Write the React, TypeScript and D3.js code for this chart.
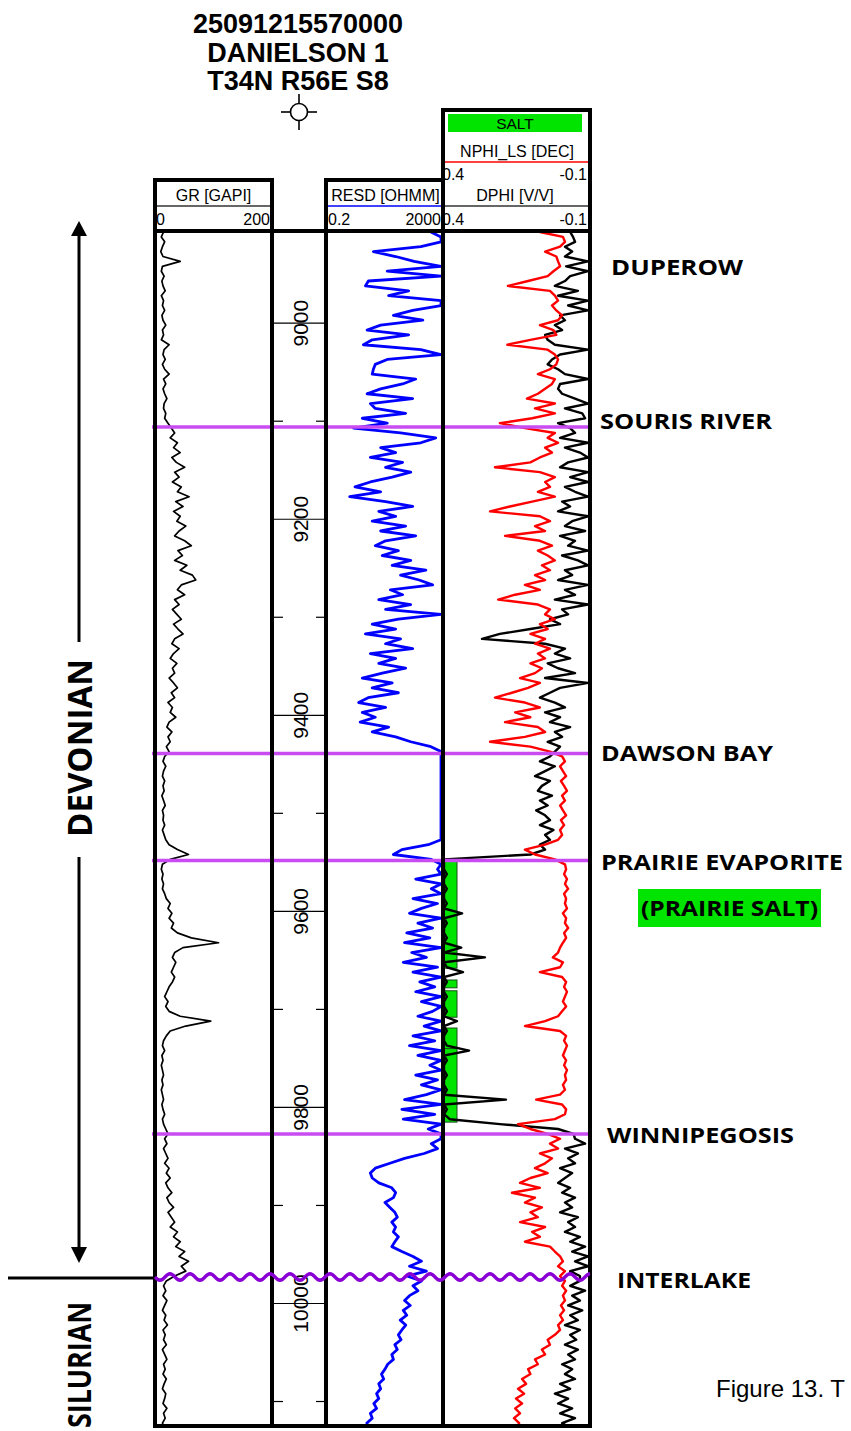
import React from 'react';
import * as d3 from 'd3';

// ---------------- DATA ----------------
const DEPTH_START = 8907; // ft, first sample
const DEPTH_STEP = 5; // ft
const DEPTH_TOP = 8907;
const DEPTH_BOTTOM = 10126;

const WELL_TITLE = ['25091215570000', 'DANIELSON 1', 'T34N R56E S8'];

const GR = [
  10, 6, 12, 8, 5, 9, 40, 8, 6, 11, 7, 9, 13, 6, 10, 8, 12, 7, 9, 14, 8, 10, 6, 20, 11, 9, 13, 8, 12, 20, 10, 14, 9, 12, 16, 11, 10, 14, 12, 18, 24,
  30, 22, 35, 28, 40, 25, 33, 48, 30, 38, 26, 42, 35, 56, 32, 45, 28, 40, 34, 50, 38, 30, 48, 60, 36, 44, 30, 52, 40, 62, 68, 42, 35, 48, 30, 38, 26, 34, 42, 28, 36, 45, 30, 25, 38, 28, 22, 34, 26, 30, 20, 28, 35, 24, 30, 18, 26, 22, 32, 20, 16, 25, 18, 22, 15, 20,
  12, 9, 14, 10, 8, 12, 9, 11, 7, 10, 13, 8, 10, 9, 12, 8, 11, 14, 20, 35, 55, 22,
  8, 6, 9, 7, 10, 8, 12, 15, 22, 18, 25, 20, 28, 24, 35, 60, 109, 45, 30, 26, 32, 28, 24, 30, 26, 20, 16, 12, 18, 14, 20, 40, 95, 50, 22, 15, 10, 8, 12, 7, 9, 6, 8, 10, 7, 9, 6, 8, 10, 7, 9, 12, 8, 10, 14, 18,
  12, 16, 10, 14, 18, 12, 20, 15, 22, 14, 18, 25, 16, 20, 28, 18, 24, 30, 22, 35, 28, 40, 32, 48, 38, 55, 42, 50, 30,
  15, 10, 14, 9, 16, 12, 8, 14, 11, 17, 9, 13, 10, 15, 8, 12, 16, 10, 13, 9, 15, 11, 8, 14, 12, 9, 16, 10, 13, 8, 12,
];

const RESD = [
  870, 2000, 2000, 380, 7.7, 48, 220, 2000, 24, 2000, 5.1, 4, 140, 27, 2000, 2000, 195, 40, 448, 14, 4.6, 140, 7, 3.4, 380, 2000, 24, 9, 7.7, 7, 250, 85, 14, 4.6, 195, 6, 9, 109, 3.1, 24, 1.5,
  72, 1300, 380, 14, 48, 6, 85, 21, 166, 36, 6, 1.7, 14, 1.1, 21, 195, 12, 48, 7, 109, 14, 250, 21, 9, 60, 16, 166, 36, 574, 72, 330, 1000, 31, 85, 12, 166, 21, 2000, 60, 7, 48, 4, 72, 21, 195, 6, 48, 12, 109, 16, 3.1, 36, 7, 60, 5, 2.3, 21, 3.1, 9, 2.6, 27, 7, 48, 166, 870, 2000,
  2000, 2000, 2000, 2000, 2000, 2000, 2000, 2000, 2000, 2000, 2000, 2000, 2000, 2000, 2000, 2000, 2000, 2000, 700, 80, 40, 900,
  2000, 1500, 2000, 250, 2000, 900, 2000, 200, 1500, 400, 150, 2000, 300, 1000, 120, 800, 100, 2000, 180, 600, 90, 1500, 200, 2000, 350, 1200, 250, 2000, 400, 2000, 1000, 300, 2000, 500, 2000, 200, 1200, 150, 2000, 300, 2000, 800, 2000, 250, 1500, 400, 2000, 600, 100, 2000, 80, 1200, 90, 2000, 700, 2000,
  2000, 900, 1500, 500, 100, 30, 9, 6, 7, 12, 35, 48, 40, 20, 30, 45, 55, 35, 48, 40, 60, 45, 35, 80, 200, 400, 150, 600, 120,
  400, 200, 300, 150, 100, 160, 90, 120, 70, 110, 80, 60, 75, 45, 55, 35, 40, 25, 20, 15, 18, 12, 14, 10, 12, 8, 10, 6, 7, 4.5, 5,
];

const NPHI = [
  0.067, -0.013, -0.02, -0.003, 0.049, 0.01, 0.004, -0.003, 0.02, 0.04, 0.108, 0.178, 0.032, 0.015, 0.004, 0.025, 0.01, -0.01, 0.004, 0.067, 0.02, 0.01, 0.1, 0.18, 0.04, 0.015, 0.004, 0.01, 0.032, 0.074, 0.015, 0.025, 0.049, 0.074, 0.112, 0.015, 0.084, 0.015, 0.094, 0.206, 0.119,
  0.015, 0.04, 0.004, 0.049, 0.025, 0.067, 0.1, 0.223, 0.067, 0.015, 0.049, 0.032, 0.074, 0.015, 0.094, 0.171, 0.24, 0.067, 0.032, 0.084, 0.049, 0.188, 0.067, 0.025, 0.074, 0.04, 0.015, 0.06, 0.032, 0.084, 0.049, 0.119, 0.067, 0.153, 0.212, 0.074, 0.032, 0.049, 0.015, 0.067, 0.04, 0.1, 0.049, 0.084, 0.032, 0.074, 0.049, 0.1, 0.06, 0.084, 0.136, 0.067, 0.108, 0.164, 0.223, 0.119, 0.067, 0.153, 0.1, 0.188, 0.074, 0.049, 0.119, 0.24, 0.1, 0.032,
  -0.01, -0.02, -0.003, -0.013, -0.024, -0.006, -0.017, -0.027, -0.01, -0.02, -0.003, -0.013, -0.024, -0.006, -0.017, -0.003, -0.01, 0.004, 0.049, 0.119, 0.084, 0.015,
  -0.02, -0.024, -0.017, -0.027, -0.02, -0.031, -0.017, -0.024, -0.02, -0.027, -0.013, -0.024, -0.02, -0.031, -0.017, -0.024, -0.013, -0.003, 0.004, 0.022, -0.013, -0.003, 0.067, -0.01, -0.024, -0.017, -0.027, -0.02, -0.013, -0.024, -0.01, 0.004, 0.049, 0.119, -0.003, -0.024, -0.017, -0.027, -0.02, -0.013, -0.024, -0.017, -0.027, -0.02, -0.024, -0.013, -0.02, -0.003, 0.08, -0.01, -0.024, -0.02, 0.015, 0.143, 0.1, 0.04,
  -0.003, 0.032, 0.004, 0.067, 0.025, 0.049, 0.084, 0.04, 0.1, 0.136, 0.067, 0.164, 0.084, 0.119, 0.06, 0.1, 0.074, 0.136, 0.049, 0.094, 0.067, 0.119, 0.032, 0.015, -0.003, -0.013, 0.004, -0.02, -0.003,
  -0.02, -0.01, -0.024, -0.013, -0.02, -0.006, -0.017, -0.003, -0.013, 0.004, -0.003, 0.015, 0.04, 0.032, 0.06, 0.049, 0.084, 0.074, 0.108, 0.1, 0.129, 0.115, 0.143, 0.122, 0.15, 0.129, 0.153, 0.136, 0.157, 0.139, 0.15,
];

const DPHI = [
  -0.038, -0.048, -0.055, -0.02, -0.045, -0.02, -0.1, -0.024, -0.1, -0.038, -0.02, 0.015, -0.065, 0.004, -0.1, -0.031, -0.1, -0.003, -0.02, 0.015, -0.01, 0.049, 0.04, 0.015, -0.1, -0.003, 0.025, 0.04, 0.004, -0.02, -0.1, -0.003, 0.004, -0.01, -0.055, -0.1, -0.02, -0.08, -0.09, 0.004, -0.038,
  -0.055, -0.003, -0.1, -0.02, -0.072, -0.1, -0.031, -0.003, -0.1, -0.038, -0.1, -0.02, -0.055, -0.1, -0.01, -0.038, 0.004, -0.1, -0.045, -0.02, -0.09, -0.003, -0.055, -0.031, -0.1, -0.01, -0.065, -0.1, -0.02, -0.045, 0.004, -0.1, -0.02, -0.055, 0.015, -0.1, -0.01, -0.031, 0.032, -0.003, 0.1, 0.206, 0.268, 0.049, -0.02, 0.015, -0.038, 0.04, 0.004, -0.055, 0.049, -0.1, -0.003, 0.032, 0.067, 0.015, -0.02, 0.049, -0.003, 0.032, -0.038, 0.015, -0.01, 0.04, -0.003, 0.015,
  0.032, 0.067, 0.015, 0.049, 0.084, 0.032, 0.06, 0.074, 0.025, 0.067, 0.04, 0.08, 0.049, 0.032, 0.067, 0.02, 0.049, 0.032, 0.067, 0.049, 0.1, 0.4,
  0.4, 0.4, 0.39, 0.4, 0.4, 0.39, 0.4, 0.4, 0.39, 0.4, 0.337, 0.4, 0.39, 0.4, 0.4, 0.39, 0.4, 0.34, 0.4, 0.258, 0.4, 0.39, 0.334, 0.4, 0.39, 0.4, 0.4, 0.39, 0.4, 0.4, 0.39, 0.4, 0.355, 0.4, 0.39, 0.4, 0.4, 0.39, 0.313, 0.4, 0.39, 0.4, 0.4, 0.39, 0.4, 0.4, 0.39, 0.4, 0.185, 0.4, 0.39, 0.4, 0.38, 0.206, 0.004, -0.05,
  -0.055, -0.09, -0.02, -0.065, -0.031, -0.055, -0.003, -0.045, -0.02, 0.004, -0.038, -0.01, -0.055, -0.02, -0.045, -0.003, -0.065, -0.031, -0.055, -0.02, -0.072, -0.038, -0.09, -0.045, -0.1, -0.055, -0.1, -0.038, -0.072,
  -0.072, -0.038, -0.09, -0.045, -0.072, -0.031, -0.08, -0.038, -0.065, -0.02, -0.072, -0.038, -0.059, -0.02, -0.065, -0.031, -0.055, -0.01, -0.045, -0.02, -0.055, -0.003, -0.038, 0.015, -0.031, 0.004, -0.045, -0.003, -0.055, -0.01, -0.038,
];

const DEPTH_TICKS = [9000, 9100, 9200, 9300, 9400, 9500, 9600, 9700, 9800, 9900, 10000, 10100];
const DEPTH_LABELS = [9000, 9200, 9400, 9600, 9800, 10000];

const TOP_NAMES = ['SOURIS RIVER', 'DAWSON BAY', 'PRAIRIE EVAPORITE', 'WINNIPEGOSIS'];
const TOP_DEPTHS = [9106, 9439, 9548, 9827];
const UNCONFORMITY_DEPTH = 9973;

const LABEL_NAMES = ['DUPEROW', 'SOURIS RIVER', 'DAWSON BAY', 'PRAIRIE EVAPORITE', 'WINNIPEGOSIS', 'INTERLAKE'];
const LABEL_DEPTHS = [8943, 9100, 9438, 9550, 9828, 9976];
const SALT_LABEL = '(PRAIRIE SALT)';
const SALT_LABEL_DEPTH = 9597;

const SALT_TOPS = [9548, 9670, 9681, 9719, 9740];
const SALT_BASES = [9658, 9678, 9708, 9740, 9815];

const PERIODS = ['DEVONIAN', 'SILURIAN'];

// ---------------- LAYOUT ----------------
const W = 851;
const H = 1431;
const TRACK_TOP = 231;
const TRACK_BOT = 1426;
const GR_L = 155, GR_R = 272;
const RES_L = 326, RES_R = 443;
const POR_L = 443, POR_R = 590;
const HEAD_TOP = 180;
const POR_HEAD_TOP = 110;

const ARIAL = 'Liberation Sans, Arial, Helvetica, sans-serif';
const LABEL_FONT = '"Open Sans", "Liberation Sans", sans-serif';
const TOP_COLOR = '#c94cf2';
const WAVE_COLOR = '#8a00d4';
const SALT_GREEN = '#00e400';

export default function App() {
  const y = d3.scaleLinear().domain([DEPTH_TOP, DEPTH_BOTTOM]).range([232, 1427]);
  const grX = d3.scaleLinear().domain([0, 200]).range([158, 269]).clamp(true);
  const resX = d3.scaleLog().domain([0.2, 2000]).range([329, 441]).clamp(true);
  const porX = d3.scaleLinear().domain([0.4, -0.1]).range([444, 588]).clamp(true);

  const depthOf = (i: number) => DEPTH_START + i * DEPTH_STEP;
  const mk = (sx: (v: number) => number, vals: number[]) =>
    d3
      .line<number>()
      .x((v) => sx(v))
      .y((_, i) => y(depthOf(i)))(vals) || '';

  const grPath = mk(grX, GR);
  const resPath = mk(resX, RESD);
  const nphiPath = mk(porX, NPHI);
  const dphiPath = mk(porX, DPHI);

  const yU = y(UNCONFORMITY_DEPTH);
  const wavePts: [number, number][] = d3
    .range(GR_L, POR_R + 1, 1)
    .map((x) => [x, yU + 3.2 * Math.sin(((x - GR_L) / 20) * 2 * Math.PI)]);
  const wavePath = d3.line()(wavePts) || '';

  const labelX = [611, 600, 601, 601, 607, 617];
  const labelLen = [132, 172, 172, 242, 187, 134];

  return (
    <svg
      width={W}
      height={H}
      viewBox={`0 0 ${W} ${H}`}
      style={{ position: 'absolute', left: 0, top: 0, background: '#fff' }}
    >
      <defs>
        <clipPath id="clipGR">
          <rect x={GR_L + 2} y={TRACK_TOP + 1} width={GR_R - GR_L - 4} height={TRACK_BOT - TRACK_TOP - 2} />
        </clipPath>
        <clipPath id="clipRES">
          <rect x={RES_L + 2} y={TRACK_TOP + 1} width={RES_R - RES_L - 2} height={TRACK_BOT - TRACK_TOP - 2} />
        </clipPath>
        <clipPath id="clipPOR">
          <rect x={POR_L + 1} y={TRACK_TOP + 1} width={POR_R - POR_L - 2} height={TRACK_BOT - TRACK_TOP - 2} />
        </clipPath>
      </defs>
      <rect x={0} y={0} width={W} height={H} fill="#fff" />

      {/* Title */}
      {WELL_TITLE.map((t, i) => (
        <text
          key={t}
          x={298}
          y={33 + i * 28.5}
          textAnchor="middle"
          fontFamily={ARIAL}
          fontWeight="bold"
          fontSize={27}
          fill="#000"
        >
          {t}
        </text>
      ))}
      {/* Well symbol */}
      <g stroke="#000" strokeWidth={1.6} fill="none">
        <circle cx={299} cy={112} r={8.5} fill="#fff" />
        <line x1={281} x2={290.5} y1={112} y2={112} />
        <line x1={307.5} x2={317} y1={112} y2={112} />
        <line x1={299} x2={299} y1={94} y2={103.5} />
        <line x1={299} x2={299} y1={120.5} y2={130} />
      </g>

      {/* Headers */}
      <g fontFamily={ARIAL} fontSize={16} fill="#000">
        <text x={(GR_L + GR_R) / 2} y={201} textAnchor="middle">GR [GAPI]</text>
        <line x1={157} x2={270} y1={206} y2={206} stroke="#333" strokeWidth={1.5} />
        <text x={156} y={225}>0</text>
        <text x={270} y={225} textAnchor="end">200</text>

        <text x={385.5} y={201} textAnchor="middle">RESD [OHMM]</text>
        <line x1={328} x2={441} y1={206} y2={206} stroke="#0000ff" strokeWidth={1.5} />
        <text x={328} y={225}>0.2</text>
        <text x={441} y={225} textAnchor="end">2000</text>

        <rect x={448} y={114} width={134} height={18} fill={SALT_GREEN} />
        <text x={515} y={129} textAnchor="middle" fontSize={15.5}>SALT</text>
        <text x={517} y={157} textAnchor="middle">NPHI_LS [DEC]</text>
        <line x1={445} x2={588} y1={162} y2={162} stroke="#ff0000" strokeWidth={1.5} />
        <text x={442} y={180}>0.4</text>
        <text x={587} y={180} textAnchor="end">-0.1</text>
        <text x={515} y={201} textAnchor="middle">DPHI [V/V]</text>
        <line x1={445} x2={588} y1={206} y2={206} stroke="#333" strokeWidth={1.5} />
        <text x={442} y={225}>0.4</text>
        <text x={587} y={225} textAnchor="end">-0.1</text>
      </g>

      {/* Curves */}
      <g clipPath="url(#clipGR)">
        <path d={grPath} fill="none" stroke="#000" strokeWidth={1.7} strokeLinejoin="round" />
      </g>
      <g clipPath="url(#clipRES)">
        <path d={resPath} fill="none" stroke="#0000ff" strokeWidth={2.8} strokeLinejoin="round" />
      </g>
      <g clipPath="url(#clipPOR)">
        {SALT_TOPS.map((t, i) => (
          <rect
            key={i}
            x={porX(0.4) - 1}
            y={y(t)}
            width={14}
            height={y(SALT_BASES[i]) - y(t)}
            fill={SALT_GREEN}
            stroke="#1a4d1a"
            strokeWidth={1}
          />
        ))}
        <path d={dphiPath} fill="none" stroke="#000" strokeWidth={2.4} strokeLinejoin="round" />
        <path d={nphiPath} fill="none" stroke="#ff0000" strokeWidth={2.4} strokeLinejoin="round" />
      </g>

      {/* Depth track ticks */}
      <g stroke="#000" strokeWidth={1.2}>
        {DEPTH_TICKS.map((d) =>
          DEPTH_LABELS.includes(d) ? (
            <line key={d} x1={GR_R} x2={RES_L} y1={y(d)} y2={y(d)} />
          ) : (
            <g key={d}>
              <line x1={GR_R} x2={GR_R + 11} y1={y(d)} y2={y(d)} />
              <line x1={RES_L - 10} x2={RES_L} y1={y(d)} y2={y(d)} />
            </g>
          )
        )}
      </g>
      {DEPTH_LABELS.map((d) => (
        <text
          key={d}
          transform={`translate(307.5, ${y(d)}) rotate(-90)`}
          textAnchor="middle"
          fontFamily={ARIAL}
          fontSize={21}
          fill="#000"
        >
          {d}
        </text>
      ))}

      {/* Formation tops */}
      {TOP_DEPTHS.map((d, i) => (
        <line key={TOP_NAMES[i]} x1={152} x2={592} y1={y(d)} y2={y(d)} stroke={TOP_COLOR} strokeWidth={3.5} />
      ))}

      {/* Track frames */}
      <g fill="none" stroke="#000" strokeWidth={4}>
        <rect x={GR_L} y={HEAD_TOP} width={GR_R - GR_L} height={TRACK_BOT - HEAD_TOP} />
        <rect x={RES_L} y={HEAD_TOP} width={RES_R - RES_L} height={TRACK_BOT - HEAD_TOP} />
        <rect x={POR_L} y={POR_HEAD_TOP} width={POR_R - POR_L} height={TRACK_BOT - POR_HEAD_TOP} />
        <line x1={GR_L} x2={POR_R} y1={TRACK_TOP} y2={TRACK_TOP} />
        <line x1={GR_R} x2={RES_L} y1={TRACK_BOT} y2={TRACK_BOT} />
      </g>

      {/* Unconformity */}
      <line x1={8} x2={GR_L} y1={yU + 1} y2={yU + 1} stroke="#000" strokeWidth={3} />
      <path d={wavePath} fill="none" stroke={WAVE_COLOR} strokeWidth={3.5} />

      {/* Period arrow */}
      <g stroke="#000" strokeWidth={3}>
        <line x1={79} x2={79} y1={234} y2={642} />
        <line x1={79} x2={79} y1={857} y2={1248} />
      </g>
      <polygon points="79,221 71,236 87,236" fill="#000" />
      <polygon points="79,1263 71,1247 87,1247" fill="#000" />
      <text
        transform="translate(92, 748) rotate(-90)"
        textAnchor="middle"
        fontFamily={LABEL_FONT}
        fontWeight="bold"
        fontSize={34}
        textLength={178}
        lengthAdjust="spacingAndGlyphs"
        fill="#000"
      >
        {PERIODS[0]}
      </text>
      <text
        transform="translate(91, 1302) rotate(-90)"
        textAnchor="end"
        fontFamily={LABEL_FONT}
        fontWeight="bold"
        fontSize={32}
        textLength={126}
        lengthAdjust="spacingAndGlyphs"
        fill="#000"
      >
        {PERIODS[1]}
      </text>

      {/* Formation labels */}
      <rect x={638} y={889} width={183} height={38} fill={SALT_GREEN} />
      {LABEL_NAMES.map((n, i) => (
        <text
          key={n}
          x={labelX[i]}
          y={y(LABEL_DEPTHS[i]) + 8}
          fontFamily={LABEL_FONT}
          fontWeight="bold"
          fontSize={22}
          textLength={labelLen[i]}
          lengthAdjust="spacingAndGlyphs"
          fill="#000"
        >
          {n}
        </text>
      ))}
      <text
        x={641}
        y={y(SALT_LABEL_DEPTH) + 8}
        fontFamily={LABEL_FONT}
        fontWeight="bold"
        fontSize={22}
        textLength={177}
        lengthAdjust="spacingAndGlyphs"
        fill="#000"
      >
        {SALT_LABEL}
      </text>

      <text x={716} y={1397} fontFamily={ARIAL} fontSize={24} fill="#000">
        Figure 13. T
      </text>
    </svg>
  );
}
